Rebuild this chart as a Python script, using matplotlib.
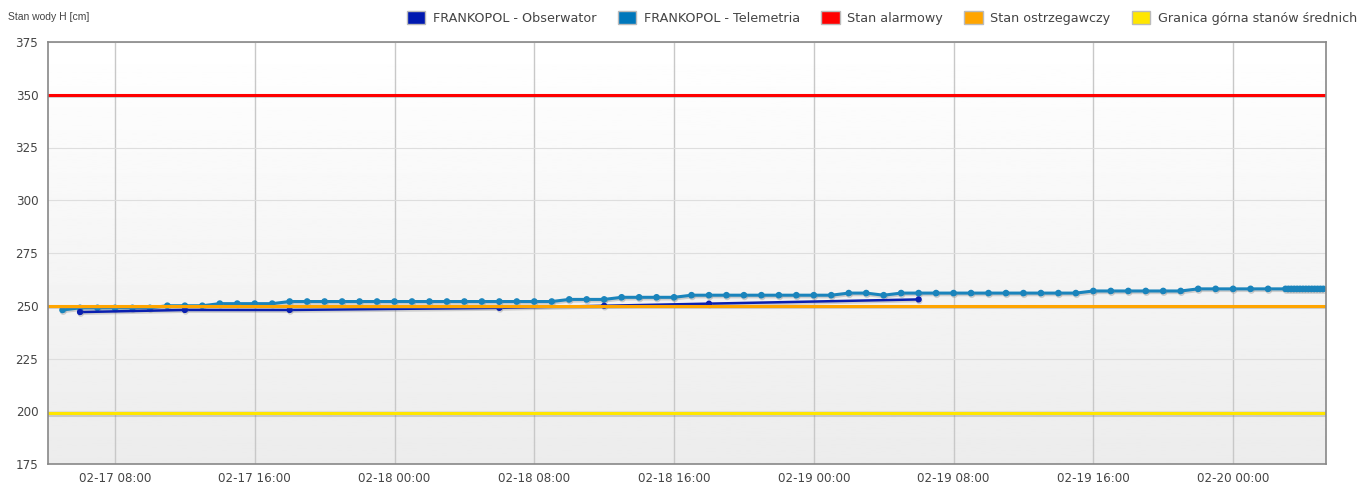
import numpy as np
import pandas as pd
import matplotlib
matplotlib.use("Agg")
import matplotlib.pyplot as plt
import matplotlib.dates as mdates
import matplotlib.patheffects as pe
from matplotlib.patches import Patch

plt.rcParams["font.family"] = ["DejaVu Sans"]

# telemetria: hourly readings from 02-17 05:00, then a denser tail on 02-20
tele_times = list(pd.date_range("2021-02-17 05:00", "2021-02-20 03:00", freq="60min"))
tele_values = [248,
               249, 249, 249, 249, 249,
               250, 250, 250,
               251, 251, 251, 251,
               252, 252, 252, 252, 252, 252, 252, 252,
               252, 252, 252, 252, 252, 252, 252, 252,
               253, 253, 253,
               254, 254, 254, 254,
               255, 255, 255, 255, 255, 255, 255, 255, 255,
               256, 256,
               255,
               256, 256, 256, 256, 256, 256, 256, 256, 256, 256, 256,
               257, 257, 257, 257, 257, 257,
               258, 258, 258, 258, 258, 258]
tail_times = list(pd.date_range("2021-02-20 03:10", "2021-02-20 05:10", freq="10min"))
tail_values = [258] * len(tail_times)

obs_times = pd.to_datetime(["2021-02-17 06:00", "2021-02-17 12:00", "2021-02-17 18:00",
                            "2021-02-18 06:00", "2021-02-18 12:00", "2021-02-18 18:00",
                            "2021-02-19 06:00"])
obs_values = [247, 248, 248, 249, 250, 251, 253]

levels = {"Stan alarmowy": 350, "Stan ostrzegawczy": 250, "Granica górna stanów średnich": 199}
level_colors = {"Stan alarmowy": "#ff0000", "Stan ostrzegawczy": "#ffa500",
                "Granica górna stanów średnich": "#ffe600"}

obs_color = "#0a1fb0"
tele_color = "#1a84bc"

x_start = pd.Timestamp("2021-02-17 04:10")
x_end = pd.Timestamp("2021-02-20 05:19")

fig = plt.figure(figsize=(13.59, 4.84), dpi=100)
ax = fig.add_axes([48 / 1359, 1 - 464 / 484, (1326 - 48) / 1359, (464 - 42) / 484])

# plot background gradient
grad = np.linspace(1.0, 0.925, 256).reshape(-1, 1)
ax.imshow(grad, cmap="gray", vmin=0, vmax=1, aspect="auto",
          extent=[0, 1, 0, 1], transform=ax.transAxes, zorder=0)

ax.set_xlim(x_start, x_end)
ax.set_ylim(175, 375)
ax.set_yticks(range(175, 376, 25))
ax.xaxis.set_major_locator(mdates.HourLocator(byhour=[0, 8, 16]))
ax.xaxis.set_major_formatter(mdates.DateFormatter("%m-%d %H:%M"))

ax.grid(axis="x", color="#c8c8c8", lw=1, zorder=1)
ax.grid(axis="y", color="#dedede", lw=0.8, zorder=1)

shadow = [pe.SimpleLineShadow(offset=(0.5, -1.2), shadow_color="#888888", alpha=0.35),
          pe.Normal()]

ax.plot(tele_times + tail_times, tele_values + tail_values, color=tele_color, lw=2.2,
        marker="o", ms=3.8, zorder=4, path_effects=shadow)
ax.plot(obs_times, obs_values, color=obs_color, lw=1.8, marker="o", ms=3.5,
        zorder=5, path_effects=shadow)

# threshold lines sit on top of the series
for name, val in levels.items():
    ax.axhline(val, color=level_colors[name], lw=2.2, zorder=6, path_effects=shadow)

for s in ax.spines.values():
    s.set_color("#888888")
    s.set_linewidth(1.2)
    s.set_zorder(7)

ax.tick_params(axis="both", length=0, labelsize=8.6, colors="#444444")
ax.tick_params(axis="x", pad=6)
ax.tick_params(axis="y", pad=7)

fig.text(8 / 1359, 1 - 17 / 484, "Stan wody H [cm]", fontsize=7.5, color="#444444",
         va="center", ha="left", family="Liberation Sans")

handles = [Patch(facecolor="#0019b0", edgecolor="#bbbbbb", label="FRANKOPOL - Obserwator"),
           Patch(facecolor="#0077bb", edgecolor="#bbbbbb", label="FRANKOPOL - Telemetria")]
handles += [Patch(facecolor=level_colors[n], edgecolor="#bbbbbb", label=n) for n in levels]
leg = fig.legend(handles=handles, loc="center right", bbox_to_anchor=(1357 / 1359, 1 - 18 / 484),
                 ncol=5, frameon=False, fontsize=9.2, handlelength=1.45, handleheight=1.1,
                 handletextpad=0.6, columnspacing=1.65, borderaxespad=0.0, borderpad=0.0)
for t in leg.get_texts():
    t.set_color("#444444")

fig.savefig("out.png", dpi=100)
